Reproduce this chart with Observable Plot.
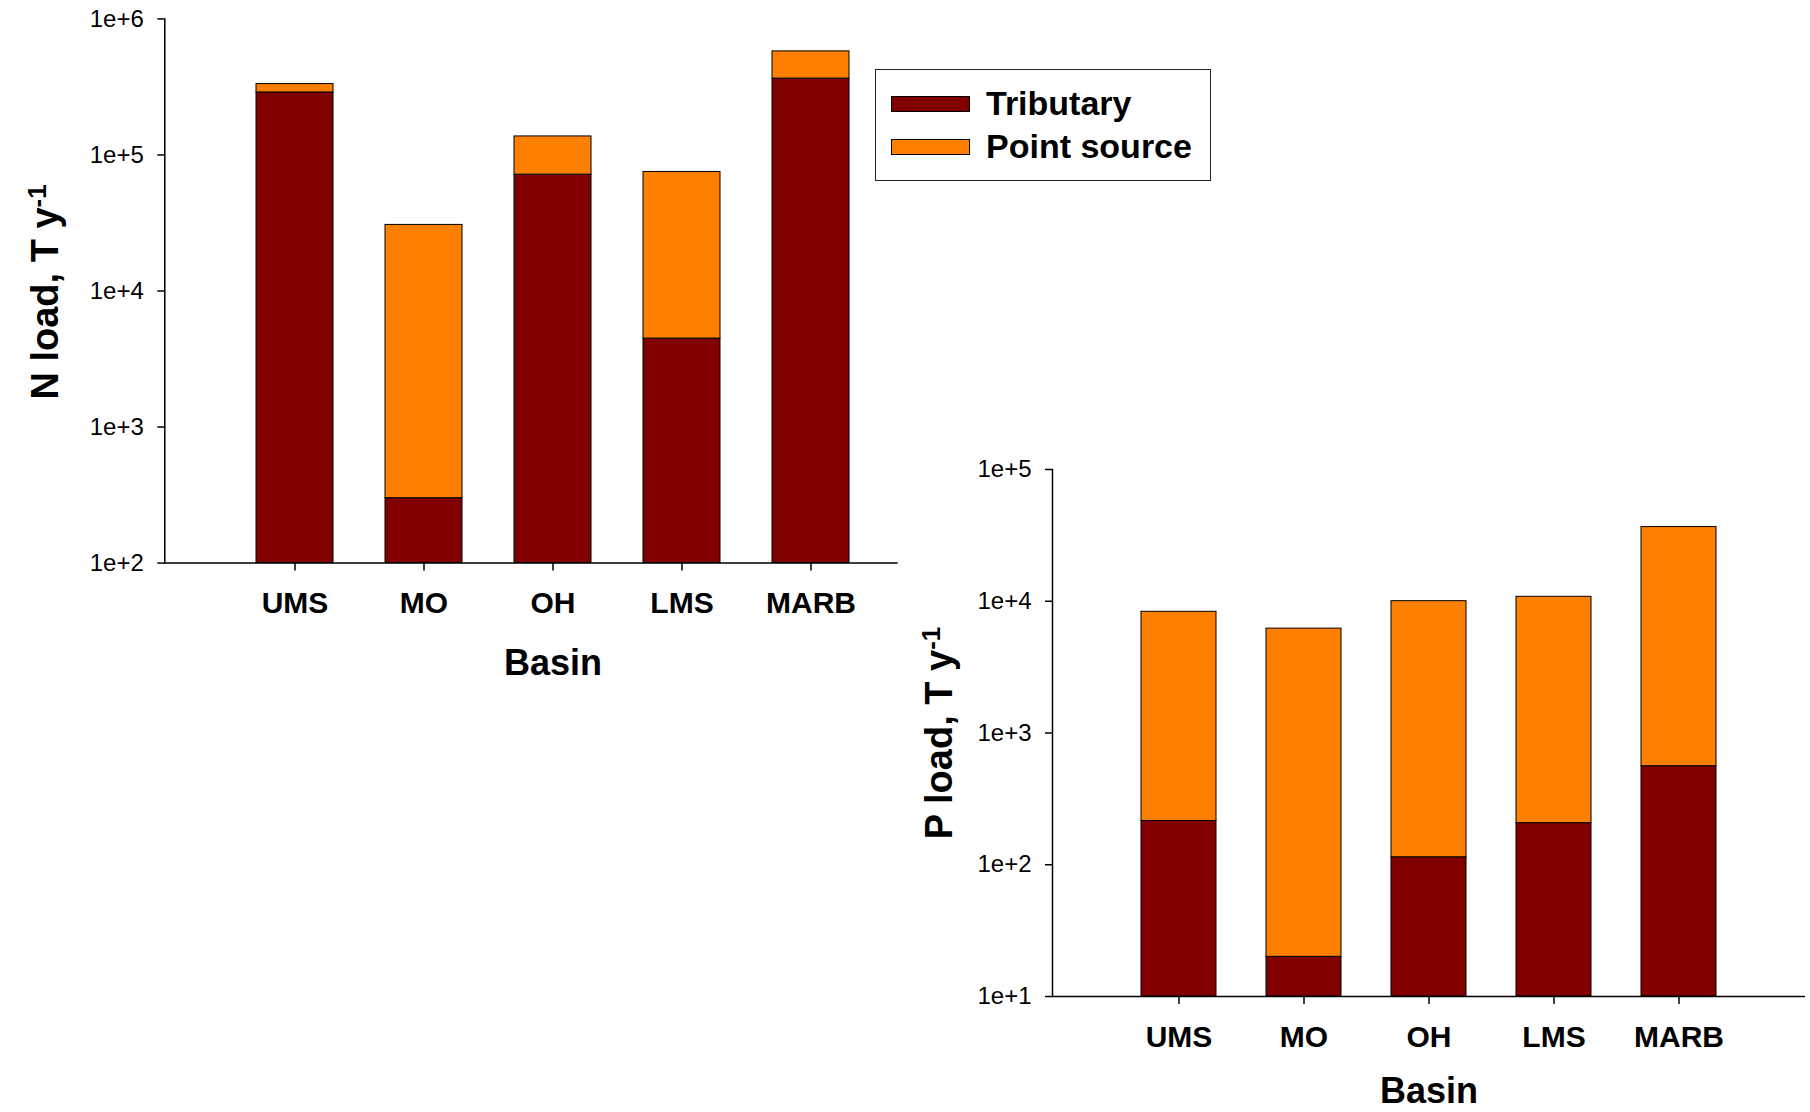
<!DOCTYPE html>
<html><head><meta charset="utf-8">
<script src="https://cdn.jsdelivr.net/npm/d3@7"></script>
<script src="https://cdn.jsdelivr.net/npm/@observablehq/plot@0.6"></script>
<style>
body{margin:0;background:#fff;font-family:"Liberation Sans",Arial,sans-serif;}
#wrap{position:relative;width:1810px;height:1112px;overflow:hidden;background:#fff;}
#wrap svg{position:absolute;overflow:visible;}
#legend{position:absolute;left:875px;top:69px;width:334px;height:110px;border:1px solid #222;background:#fff;}
#legend .row{position:absolute;left:15px;height:43px;display:flex;align-items:center;}
#legend .sw{width:77px;height:14px;border:1px solid #000;margin-right:16px;}
#legend .lab{font-weight:bold;font-size:34px;color:#000;white-space:nowrap;}
</style></head><body><div id="wrap"><div id="legend"></div></div>
<script>
// ---- data ----
const basins = ["UMS", "MO", "OH", "LMS", "MARB"];
const nTributary   = [288000, 300, 71600, 4470, 364000];
const nPointSource = [44000, 30300, 65200, 70500, 213000];
const pTributary   = [215, 20, 114, 207, 560];
const pPointSource = [8100, 6180, 9900, 10600, 36000];
const nTicks = [1e2, 1e3, 1e4, 1e5, 1e6];
const pTicks = [1e1, 1e2, 1e3, 1e4, 1e5];
const seriesNames = ["Tributary", "Point source"];
const seriesColors = ["#800000", "#ff8000"];
const xTitle = "Basin";
const nTitle = ["N load, T y", "-1"];
const pTitle = ["P load, T y", "-1"];

const FONT = "'Liberation Sans', Arial, Helvetica, sans-serif";
const wrap = document.getElementById("wrap");

function panel(cfg) {
  const rows = basins.map((b, i) => ({basin: b, trib: cfg.trib[i], total: cfg.trib[i] + cfg.point[i]}));
  const lo = cfg.ticks[0], hi = cfg.ticks[cfg.ticks.length - 1];
  const chart = Plot.plot({
    width: cfg.width, height: cfg.height,
    marginLeft: cfg.ml, marginRight: cfg.mr, marginTop: cfg.mt, marginBottom: cfg.mb,
    style: {background: "transparent", fontFamily: FONT, color: "#000", overflow: "visible"},
    x: {type: "band", domain: basins, range: cfg.xRange, paddingInner: 0.4, paddingOuter: 0.2, label: null},
    y: {type: "log", domain: [lo, hi], label: null},
    marks: [
      Plot.rectY(rows, {x: "basin", y1: lo, y2: "trib", fill: seriesColors[0], stroke: "#000", strokeWidth: 1}),
      Plot.rectY(rows, {x: "basin", y1: "trib", y2: "total", fill: seriesColors[1], stroke: "#000", strokeWidth: 1}),
      Plot.axisY({ticks: cfg.ticks, tickFormat: d3.format(".0e"), tickSize: 7, tickPadding: 14, fontSize: 24, strokeWidth: 1.5, label: null}),
      Plot.axisX({tickSize: 8, tickPadding: 21, fontSize: 30, fontWeight: "bold", strokeWidth: 1.5, label: null}),
      Plot.ruleY([lo], {stroke: "#000", strokeWidth: 1.5}),
      Plot.frame({anchor: "left", stroke: "#000", strokeWidth: 1.5}),
      Plot.text([xTitle], {x: () => basins[Math.floor(basins.length / 2)], frameAnchor: "bottom", lineAnchor: "middle", dy: cfg.titleDy, fontSize: 36, fontWeight: "bold"})
    ]
  });
  chart.style.left = cfg.left + "px";
  chart.style.top = cfg.top + "px";
  const t = d3.select(chart).append("text")
    .attr("transform", `translate(${cfg.titleX},${cfg.titleY}) rotate(-90)`)
    .attr("text-anchor", "middle")
    .attr("font-family", FONT).attr("font-weight", "bold").attr("font-size", 38).attr("fill", "#000");
  t.append("tspan").text(cfg.title[0]);
  t.append("tspan").attr("dy", "-0.45em").attr("font-size", "0.68em").text(cfg.title[1]);
  wrap.appendChild(chart);
}

panel({trib: nTributary, point: nPointSource, ticks: nTicks, title: nTitle,
  left: 0, top: 0, width: 900, height: 700, ml: 164.3, mr: 2.3, mt: 18.4, mb: 137.4,
  xRange: [228.65, 876.15], titleX: 58, titleY: 292, titleDy: 100});

panel({trib: pTributary, point: pPointSource, ticks: pTicks, title: pTitle,
  left: 920, top: 420, width: 890, height: 692, ml: 132, mr: 5, mt: 49, mb: 116,
  xRange: [194.75, 822.25], titleX: 32, titleY: 313, titleDy: 95});

// legend
const legend = document.getElementById("legend");
seriesNames.forEach((name, i) => {
  const row = document.createElement("div");
  row.className = "row";
  row.style.top = (12 + i * 43) + "px";
  const sw = document.createElement("div");
  sw.className = "sw"; sw.style.background = seriesColors[i];
  const lab = document.createElement("span");
  lab.className = "lab"; lab.textContent = name;
  row.appendChild(sw); row.appendChild(lab);
  legend.appendChild(row);
});
</script></body></html>
